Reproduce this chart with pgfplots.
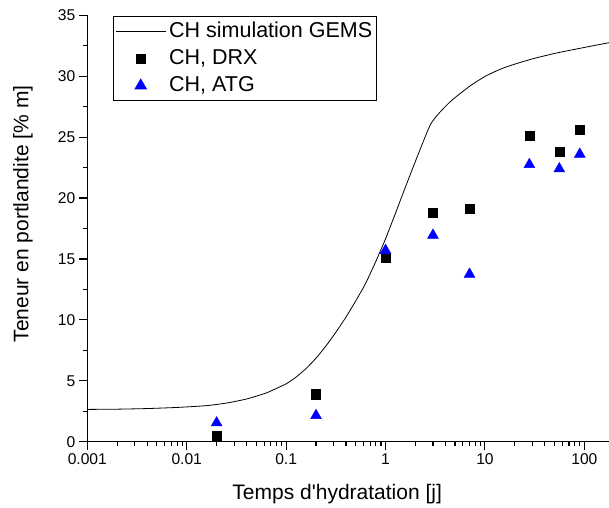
\documentclass[border=0pt]{standalone}
\usepackage{fontspec}
\setmainfont{Liberation Sans}
\usepackage{pgfplots}
\pgfplotsset{compat=1.18}
\pgfplotsset{
  linelegend/.style={legend image code/.code={\draw[black, line width=0.8bp] (0bp,0bp) -- (50bp,0bp);}},
  marklegend/.style={legend image code/.code={\draw[##1] plot coordinates {(25bp,0bp)};}},
}
\begin{document}
\begin{tikzpicture}
\path[use as bounding box] (0,0) rectangle (609bp,508bp);
\begin{axis}[
  at={(87.3bp,66.3bp)}, anchor=south west,
  scale only axis, width=521.7bp, height=426.4bp,
  xmode=log, xmin=0.001, xmax=177, ymin=0, ymax=35,
  axis x line=bottom, axis y line=left,
  axis line style={-, line width=1.3bp},
  tick align=outside, major tick length=8.5bp, minor tick length=4.5bp,
  every tick/.style={line width=1.1bp, black},
  xtick={0.001,0.01,0.1,1,10,100}, xticklabels={0.001,0.01,0.1,1,10,100},
  ytick={0,5,...,35}, yticklabels={0,5,10,15,20,25,30,35},
  minor y tick num=1,
  tick label style={font=\fontsize{15.6bp}{18bp}\selectfont},
  label style={font=\fontsize{21bp}{25bp}\selectfont},
  xlabel={Temps d\textquotesingle hydratation [j]},
  ylabel={Teneur en portlandite [\% m]},
  xlabel style={at={(axis description cs:0.479,-0.1227)}, anchor=center},
  ylabel style={at={(axis description cs:-0.1233,0.534)}, anchor=center},
  clip=false,
  legend style={at={(axis description cs:0.0498,0.998)}, anchor=north west,
    draw=black, line width=1.1bp, inner xsep=1.5bp, inner ysep=1.5bp,
    font=\fontsize{21.5bp}{25bp}\selectfont,
    nodes={text height=15.5bp, text depth=4.5bp, inner ysep=3.5bp, inner xsep=3bp}},
  legend cell align=left,
]
\addplot[black, line width=0.8bp, smooth, tension=0.3, linelegend]
coordinates {
(0.001,2.65) (0.002,2.67) (0.003981,2.72) (0.007943,2.81) (0.01585,2.96)
(0.02512,3.17) (0.03981,3.5) (0.0631,4.0) (0.1,4.75) (0.1259,5.3)
(0.1585,6.0) (0.1995,6.85) (0.2512,7.85) (0.3162,8.98) (0.3981,10.2)
(0.5012,11.55) (0.631,13.0) (0.7943,14.75) (1,16.65) (1.259,18.75)
(1.585,20.9) (1.995,23.0) (2.512,25.05) (2.692,25.65) (2.884,26.15)
(3.162,26.6) (3.548,27.07) (3.981,27.5) (4.467,27.9) (5.012,28.25)
(5.888,28.7) (7.079,29.2) (8.318,29.58) (10,29.98) (12.59,30.38)
(15.85,30.72) (22.39,31.12) (31.62,31.47) (50.12,31.87) (79.43,32.2)
(100,32.36) (125.9,32.52) (177,32.75)
};
\addlegendentry{CH simulation GEMS}
\addplot[only marks, mark=square*, mark size=4.6bp, black, mark options={draw=black, fill=black}, marklegend]
coordinates {
(0.02,0.5) (0.2,3.9) (1,15.1) (3,18.8) (7,19.1) (28,25.1) (56,23.8) (90,25.6)
};
\addlegendentry{CH, DRX}
\addplot[only marks, mark=triangle*, mark size=6.3bp, blue, mark options={draw=blue, fill=blue}, marklegend]
coordinates {
(0.02,1.55) (0.2,2.15) (1,15.7) (3,16.95) (7,13.75) (28,22.75) (56,22.4) (90,23.6)
};
\addlegendentry{CH, ATG}
\end{axis}
\end{tikzpicture}
\end{document}
